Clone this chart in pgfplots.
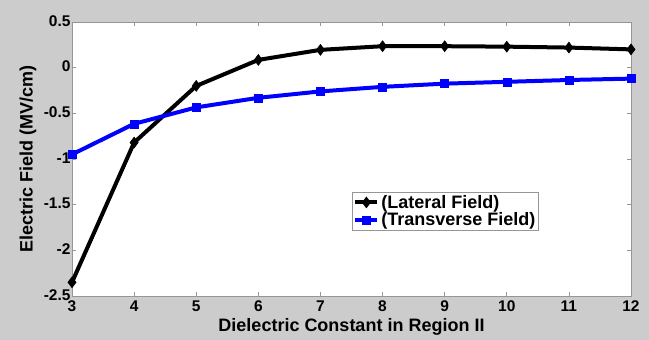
\documentclass[border=0pt]{standalone}
\usepackage{fontspec}
\setmainfont{Liberation Sans}
\usepackage{pgfplots}
\pgfplotsset{compat=1.18}
\definecolor{bgc}{RGB}{204,204,204}
\definecolor{lgray}{RGB}{150,150,150}
\begin{document}
\begin{tikzpicture}[x=1pt,y=1pt]
\useasboundingbox (0,0) rectangle (649,340);
\fill[bgc] (0,0) rectangle (649,340);
\begin{axis}[
  at={(72pt,44pt)}, anchor=south west,
  scale only axis, width=559pt, height=274pt,
  xmin=3, xmax=12, ymin=-2.5, ymax=0.5,
  xtick={3,4,...,12}, ytick={-2.5,-2,-1.5,-1,-0.5,0,0.5},
  yticklabels={-2.5,-2,-1.5,-1,-0.5,0,0.5},
  tick align=inside, tick pos=both,
  major tick length=4pt,
  tick style={lgray, line width=0.6pt},
  axis line style={lgray, line width=0.8pt},
  axis background/.style={fill=white},
  /pgf/number format/assume math mode=true,
  ticklabel style={font=\fontsize{15.5}{16}\selectfont\bfseries},
  xticklabel style={yshift=-1pt},
  yticklabel style={xshift=2pt, yshift=1pt},
  xlabel={Dielectric Constant in Region II},
  ylabel={Electric Field (MV/cm)},
  label style={font=\fontsize{18}{19}\selectfont\bfseries},
  xlabel style={at={(0.5,0)}, anchor=center, yshift=-31pt},
  ylabel style={at={(0,0.5)}, anchor=center, yshift=44pt},
  legend style={at={(0.501,0.38)}, anchor=north west, draw=lgray, line width=0.6pt,
    font=\fontsize{18}{20}\selectfont\bfseries, inner xsep=1pt, inner ysep=1pt,
    row sep=-1pt, legend cell align=left,
    /tikz/every even column/.append style={column sep=0pt}},
  legend image code/.code={
    \draw[#1] (0pt,0pt) -- (22pt,0pt);
    \draw[#1, only marks] plot coordinates {(11pt,0pt)};
  },
]
\addplot[black, line width=4pt, mark=diamond*, mark size=5.5pt, mark options={solid, line width=0.5pt}]
  coordinates {(3,-2.35) (4,-0.82) (5,-0.20) (6,0.085) (7,0.195) (8,0.235) (9,0.235) (10,0.23) (11,0.22) (12,0.20)};
\addlegendentry{(Lateral Field)}
\addplot[blue, line width=4pt, mark=square*, mark size=4pt, mark options={solid, line width=0.5pt}]
  coordinates {(3,-0.95) (4,-0.615) (5,-0.435) (6,-0.33) (7,-0.26) (8,-0.21) (9,-0.175) (10,-0.155) (11,-0.135) (12,-0.12)};
\addlegendentry{(Transverse Field)}
\end{axis}
\end{tikzpicture}
\end{document}
